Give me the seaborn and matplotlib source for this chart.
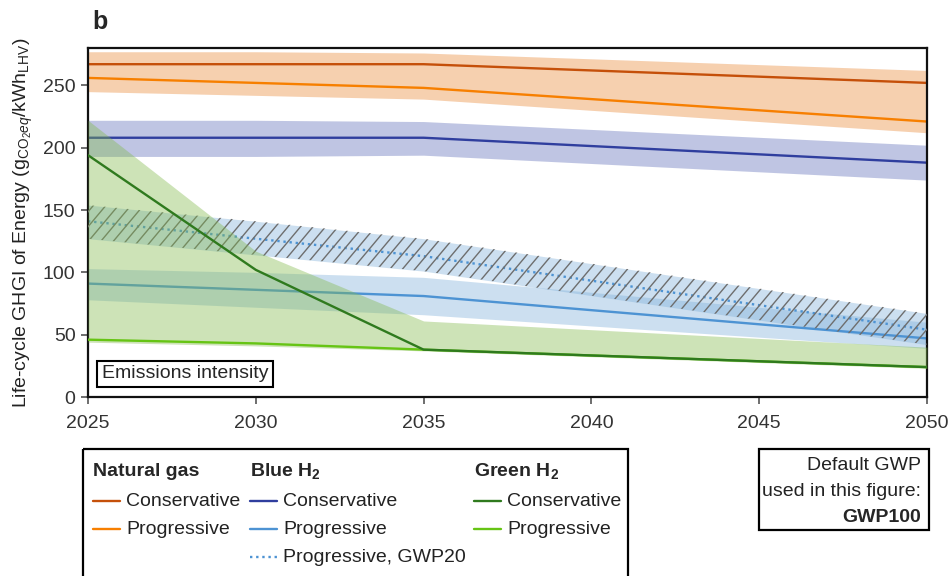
import numpy as np
import pandas as pd
import matplotlib
matplotlib.use("Agg")
import matplotlib.pyplot as plt
import seaborn as sns
from matplotlib.collections import LineCollection
from matplotlib.patches import Rectangle
from matplotlib.lines import Line2D

# ---- data (g CO2eq / kWh LHV) ----
years = [2025, 2030, 2035, 2050]

ng_cons = [267, 267, 267, 252]
ng_prog = [256, 252, 248, 221]
ng_low = [245, 242, 239, 212]
ng_high = [277, 277, 276, 262]

blue_cons = [208, 208, 208, 188]
blue_cons_low = [193, 193, 194, 174]
blue_cons_high = [222, 222, 221, 202]

blue_prog = [91, 86, 81, 47]
blue_prog_low = [78, 72, 66, 39]
blue_prog_high = [103, 100, 96, 60]

blue_gwp20 = [141, 127, 113, 54]
blue_gwp20_low = [127, 114, 101, 42]
blue_gwp20_high = [154, 141, 127, 67]

green_cons = [194, 102, 38, 24]
green_prog = [46, 43, 38, 24]
green_low = [44, 41, 37, 23]
green_high = [222, 117, 61, 40]

x_ticks = [2025, 2030, 2035, 2040, 2045, 2050]
y_ticks = [0, 50, 100, 150, 200, 250]

# ---- style ----
sns.set_style("ticks")
plt.rcParams["font.family"] = ["Liberation Sans", "DejaVu Sans"]
plt.rcParams["mathtext.fontset"] = "custom"
plt.rcParams["mathtext.rm"] = "Liberation Sans"
plt.rcParams["mathtext.it"] = "Liberation Sans:italic"
plt.rcParams["mathtext.bf"] = "Liberation Sans:bold"

C_NG_CONS = "#c5500a"
C_NG_PROG = "#f77f00"
C_BL_CONS = "#2f3e9e"
C_BL_PROG = "#4d93d3"
C_GR_CONS = "#2f7a1e"
C_GR_PROG = "#66c414"

BAND_A = 0.4
F_NG = (0.918, 0.541, 0.225, BAND_A)
F_BL_CONS = (0.382, 0.441, 0.725, BAND_A)
F_BL_PROG = (0.50, 0.696, 0.853, BAND_A)
F_GR = (0.51, 0.725, 0.30, BAND_A)

LW = 1.7
FS = 14

fig = plt.figure(figsize=(9.5, 5.76), dpi=100)
W_PX, H_PX = 950, 576
ax = fig.add_axes([88 / W_PX, 1 - 397 / H_PX, (927 - 88) / W_PX, (397 - 48) / H_PX])


def band(lo, hi, face, z):
    return ax.fill_between(years, lo, hi, facecolor=face, linewidth=0, zorder=z)


def line(vals, color, z, ls="-"):
    sns.lineplot(x=years, y=vals, ax=ax, color=color, linewidth=LW,
                 linestyle=ls, zorder=z)


# natural gas
band(ng_low, ng_high, F_NG, 1)
line(ng_cons, C_NG_CONS, 2)
line(ng_prog, C_NG_PROG, 2)

# blue hydrogen
band(blue_cons_low, blue_cons_high, F_BL_CONS, 1)
line(blue_cons, C_BL_CONS, 2)
band(blue_prog_low, blue_prog_high, F_BL_PROG, 1)
gwp20_poly = band(blue_gwp20_low, blue_gwp20_high, F_BL_PROG, 1)
line(blue_prog, C_BL_PROG, 2)
line(blue_gwp20, C_BL_PROG, 2, ls=(0, (1.0, 1.6)))

# green hydrogen (drawn over the others)
band(green_low, green_high, F_GR, 4)
line(green_prog, C_GR_PROG, 5)
line(green_cons, C_GR_CONS, 5)

ax.set_xlim(2025, 2050)
ax.set_ylim(0, 280)
ax.set_xticks(x_ticks)
ax.set_yticks(y_ticks)
ax.set_xlabel("")
ax.set_ylabel(r"Life-cycle GHGI of Energy (g$_{\mathrm{CO_2}\mathit{eq}}$/kWh$_{\mathrm{LHV}}$)",
              fontsize=FS, color="#222222", labelpad=6)
ax.tick_params(direction="out", length=5, width=1.2, color="#555555",
               labelsize=FS, labelcolor="#333333", pad=4)
ax.tick_params(axis="x", pad=8)
for s in ax.spines.values():
    s.set_visible(True)
    s.set_linewidth(1.6)
    s.set_color("#111111")

# diagonal hatching on the GWP20 band, clipped to its outline
fig.canvas.draw()
bb = ax.get_window_extent()
aw, ah = bb.width, bb.height
step = 12.5
slope = np.tan(np.radians(50))
segs = []
x0 = -ah / slope
while x0 < aw:
    segs.append([(x0 / aw, 0.0), ((x0 + ah / slope) / aw, 1.0)])
    x0 += step
hatch = LineCollection(segs, colors="#6e6e6e", linewidths=1.0,
                       transform=ax.transAxes, zorder=3)
ax.add_collection(hatch)
hatch.set_clip_path(gwp20_poly.get_paths()[0], ax.transData)

# panel letter and inner label
fig.text(92 / W_PX, 1 - 22 / H_PX, "b", fontsize=18, fontweight="bold",
         va="center", ha="left")
ax.text(0.0165, 0.066, "Emissions intensity", transform=ax.transAxes,
        fontsize=FS, va="center", ha="left", zorder=10,
        bbox=dict(boxstyle="square,pad=0.25", facecolor="white",
                  edgecolor="black", linewidth=1.5))

# ---- legend panel (pixel layout) ----
lg = fig.add_axes([0, 0, 1, 1], zorder=20)
lg.set_xlim(0, W_PX)
lg.set_ylim(H_PX, 0)
lg.axis("off")
lg.patch.set_alpha(0)

lg.add_patch(Rectangle((83, 449), 628 - 83, 200, facecolor="none",
                       edgecolor="black", linewidth=1.6, clip_on=False))
lg.add_patch(Rectangle((759, 449), 929 - 759, 530 - 449, facecolor="none",
                       edgecolor="black", linewidth=1.6, clip_on=False))

headers = ["Natural gas", r"Blue H$_\mathbf{2}$", r"Green H$_\mathbf{2}$"]
col_x = [93, 250, 474]
row_y = [471, 501, 529, 557]
entries = [
    [("Conservative", C_NG_CONS, "-"), ("Progressive", C_NG_PROG, "-")],
    [("Conservative", C_BL_CONS, "-"), ("Progressive", C_BL_PROG, "-"),
     ("Progressive, GWP20", C_BL_PROG, (0, (1.0, 1.6)))],
    [("Conservative", C_GR_CONS, "-"), ("Progressive", C_GR_PROG, "-")],
]
for cx, head, items in zip(col_x, headers, entries):
    lg.text(cx, row_y[0], head, fontsize=FS, fontweight="bold",
            va="center", ha="left")
    for ry, (lab, col, ls) in zip(row_y[1:], items):
        lg.add_line(Line2D([cx, cx + 27], [ry, ry], color=col, linewidth=LW,
                           linestyle=ls))
        lg.text(cx + 33, ry, lab, fontsize=FS, va="center", ha="left",
                color="#222222")

lg.text(921, 465, "Default GWP", fontsize=FS, ha="right", va="center",
        color="#222222")
lg.text(921, 491, "used in this figure:", fontsize=FS, ha="right",
        va="center", color="#222222")
lg.text(921, 517, "GWP100", fontsize=FS, ha="right", va="center",
        fontweight="bold")

fig.savefig("out.png", dpi=100)
